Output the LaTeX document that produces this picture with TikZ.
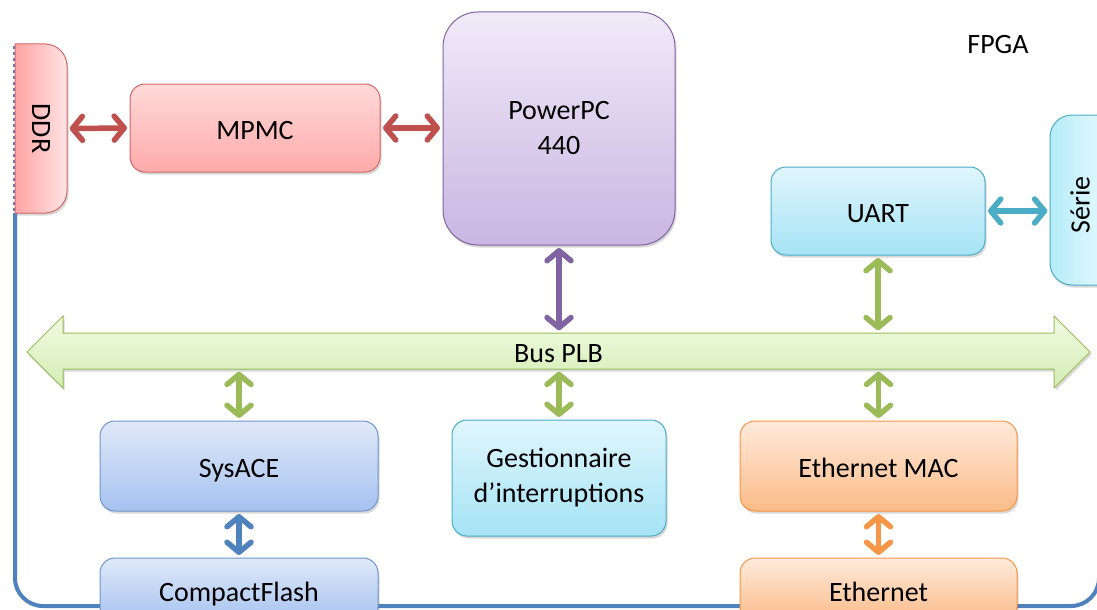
\documentclass[tikz,border=0pt]{standalone}
\usepackage{fontspec}
\setmainfont{Carlito}
\usetikzlibrary{arrows.meta,shadows}
\definecolor{fpgaline}{HTML}{4F81BD}
\definecolor{redline}{HTML}{D06A68}
\definecolor{redarrow}{HTML}{C0504D}
\definecolor{mpmctop}{HTML}{FFD9D9}
\definecolor{mpmcbot}{HTML}{FFAAAA}
\definecolor{ddrleft}{HTML}{FFA3A3}
\definecolor{ddrright}{HTML}{FFE4E4}
\definecolor{ppcline}{HTML}{8064A2}
\definecolor{ppctop}{HTML}{F0EAF8}
\definecolor{ppcbot}{HTML}{C9B6E2}
\definecolor{cyanline}{HTML}{4BACC6}
\definecolor{cyantop}{HTML}{E0F6FD}
\definecolor{cyanbot}{HTML}{A5E3F5}
\definecolor{serieleft}{HTML}{B6ECFA}
\definecolor{serieright}{HTML}{E8F9FE}
\definecolor{greenline}{HTML}{9BBB59}
\definecolor{bustop}{HTML}{F0FBE3}
\definecolor{busbot}{HTML}{D4EDB3}
\definecolor{blueline}{HTML}{6F95CC}
\definecolor{bluearrow}{HTML}{4F81BD}
\definecolor{bluetop}{HTML}{E0E9F9}
\definecolor{bluebot}{HTML}{A6C2F0}
\definecolor{orangeline}{HTML}{F79646}
\definecolor{orangetop}{HTML}{FEEADB}
\definecolor{orangebot}{HTML}{FBBB88}
\begin{document}
\begin{tikzpicture}[x=1pt,y=-1pt,
  every node/.style={font=\fontsize{28}{35}\selectfont, inner sep=0pt, align=center},
  one/.style={text height=26pt, text depth=3pt},
  shad/.style={drop shadow={shadow xshift=1.5pt,shadow yshift=-2.5pt,opacity=0.22,fill=black!70}},
  box/.style={draw, line width=1pt, rounded corners=15pt, shad},
  redbox/.style={box, draw=redline, top color=mpmctop, bottom color=mpmcbot},
  ppcbox/.style={box, rounded corners=35pt, draw=ppcline, top color=ppctop, bottom color=ppcbot},
  cyanbox/.style={box, draw=cyanline, top color=cyantop, bottom color=cyanbot},
  bluebox/.style={box, draw=blueline, top color=bluetop, bottom color=bluebot},
  orangebox/.style={box, draw=orangeline, top color=orangetop, bottom color=orangebot},
  barb/.tip={Straight Barb[length=10pt,width=24pt,line cap=round,line join=round]},
  link/.style={line width=5.5pt, barb-barb, shorten <=2.5pt, shorten >=2.5pt},
]
\useasboundingbox (0,0) rectangle (1097,610);
\clip (0,0) rectangle (1097,610);
% FPGA border
\draw[fpgaline, line width=2pt, dashed] (14,46) -- (14,213);
\draw[fpgaline, line width=4pt, rounded corners=28pt] (15,213) -- (15,606) -- (1099,606) -- (1099,520);
\node[one] (fpga) at (998,42) {FPGA};
% DDR
\draw[redline, line width=1pt, left color=ddrleft, right color=ddrright, shad]
  (15,44) -- (45,44) arc (-90:0:22) -- (67,191) arc (0:90:22) -- (15,213) -- cycle;
\node[minimum width=169pt, minimum height=52pt, rotate=-90] (ddr) at (41,128.5) {DDR};
% Serie
\draw[cyanline, line width=1pt, left color=serieleft, right color=serieright, shad]
  (1110,115) -- (1072,115) arc (-90:-180:22) -- (1050,263) arc (180:90:22) -- (1110,285) -- cycle;
\node[minimum width=170pt, minimum height=60pt, rotate=90] (serie) at (1080,205) {Série};
% Bus PLB
\draw[greenline, line width=1pt, top color=bustop, bottom color=busbot, shad]
  (27,352) -- (63,316) -- (63,333) -- (1054,333) -- (1054,316) -- (1090,352)
  -- (1054,388) -- (1054,369) -- (63,369) -- (63,388) -- cycle;
\node[one, minimum width=1063pt, minimum height=36pt] (bus) at (558.5,351) {Bus PLB};
% Boxes
\node[redbox, one, minimum width=250pt, minimum height=88pt] (mpmc) at (255,128) {MPMC};
\node[ppcbox, minimum width=232pt, minimum height=233pt] (ppc) at (559,128.5) {PowerPC\\440};
\node[cyanbox, one, minimum width=214pt, minimum height=88pt] (uart) at (878,211) {UART};
\node[bluebox, one, minimum width=278pt, minimum height=90pt] (sysace) at (239,466) {SysACE};
\node[cyanbox, minimum width=214pt, minimum height=116pt] (gest) at (559,478) {Gestionnaire\\d’interruptions};
\node[orangebox, one, minimum width=277pt, minimum height=90pt] (emac) at (878.5,466) {Ethernet MAC};
\node[bluebox, one, minimum width=278pt, minimum height=64pt] (cf) at (239,590) {CompactFlash};
\node[orangebox, one, minimum width=277pt, minimum height=64pt] (eth) at (878.5,590) {Ethernet};
% Connectors
\draw[link, redarrow] (ddr.north) -- (mpmc.west);
\draw[link, redarrow] (mpmc.east) -- (ppc.west |- mpmc.east);
\draw[link, ppcline] (ppc.south) -- (ppc.south |- bus.north);
\draw[link, greenline] (uart.south) -- (uart.south |- bus.north);
\draw[link, cyanline] (uart.east) -- (serie.north |- uart.east);
\draw[link, greenline] (sysace.north |- bus.south) -- (sysace.north);
\draw[link, greenline] (gest.north |- bus.south) -- (gest.north);
\draw[link, greenline] (emac.north |- bus.south) -- (emac.north);
\draw[link, bluearrow] (sysace.south) -- (cf.north);
\draw[link, orangeline] (emac.south) -- (eth.north);
\end{tikzpicture}
\end{document}
